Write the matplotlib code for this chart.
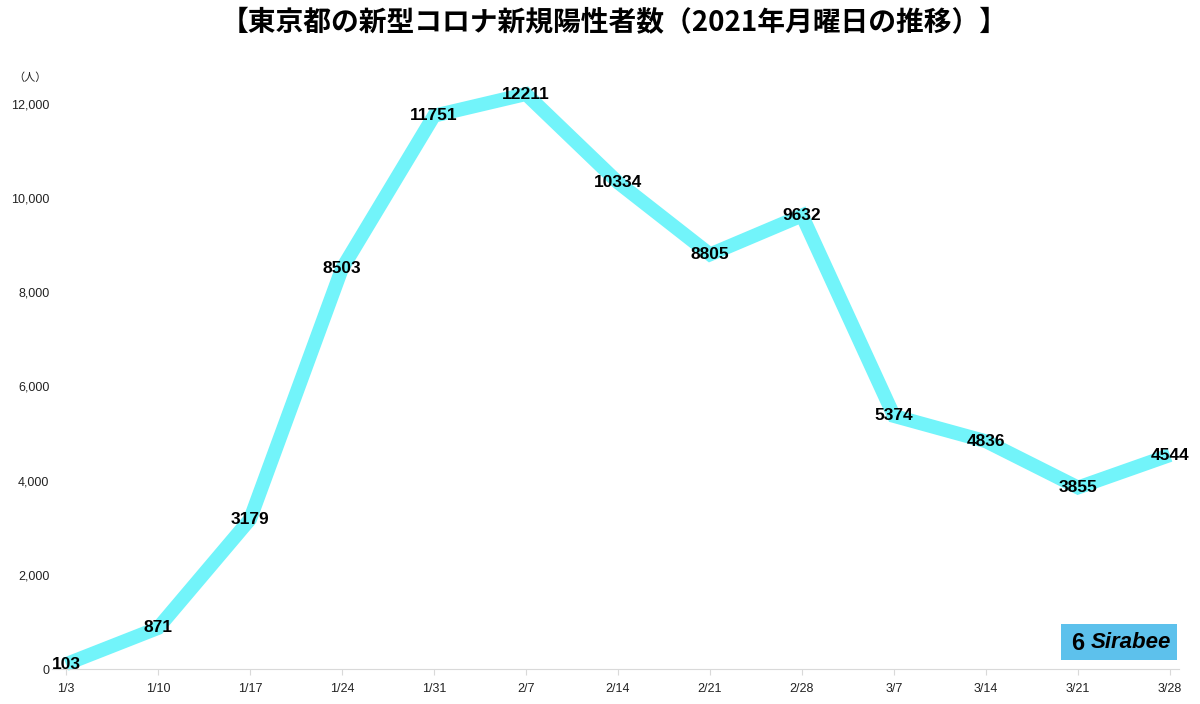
import matplotlib
matplotlib.use("Agg")
import matplotlib.pyplot as plt
from matplotlib.patches import Rectangle

dates = ["1/3", "1/10", "1/17", "1/24", "1/31", "2/7", "2/14", "2/21", "2/28", "3/7", "3/14", "3/21", "3/28"]
cases = [103, 871, 3179, 8503, 11751, 12211, 10334, 8805, 9632, 5374, 4836, 3855, 4544]
yticks = [0, 2000, 4000, 6000, 8000, 10000, 12000]
ytick_labels = ["0", "2,000", "4,000", "6,000", "8,000", "10,000", "12,000"]
title = "【東京都の新型コロナ新規陽性者数（2021年月曜日の推移）】"

plt.rcParams['font.family'] = ['Liberation Sans', 'Noto Sans CJK JP', 'DejaVu Sans']

fig = plt.figure(figsize=(12, 7.04), dpi=100)
W, H = 1200, 704
ymax = 12600
y0px, y12px = 669, 104
ppu = (y0px - y12px) / 12000
top_px = y0px - ymax * ppu
ax = fig.add_axes([66 / W, 1 - y0px / H, (1170 - 66) / W, (y0px - top_px) / H])

x = list(range(len(dates)))
ax.plot(x, cases, color="#72F4FA", lw=10, solid_capstyle="butt", solid_joinstyle="miter", clip_on=False, zorder=2)
for xi, v in zip(x, cases):
    ax.text(xi, v, str(v), ha="center", va="center", fontsize=12.5, fontweight="bold",
            color="black", zorder=3, family=['Liberation Sans Narrow', 'Liberation Sans'])

ax.set_xlim(0, 12)
ax.set_ylim(0, ymax)
ax.set_xticks(x)
ax.set_xticklabels(dates, fontsize=9, color="#222222")
ax.set_yticks(yticks)
ax.set_yticklabels(ytick_labels, fontsize=9, color="#222222")
for s in ["top", "right", "left"]:
    ax.spines[s].set_visible(False)
ax.spines["bottom"].set_color("#D9D9D9")
ax.spines["bottom"].set_bounds(-0.15, 12.1)
ax.tick_params(axis="x", length=4, color="#D9D9D9", pad=6)
ax.tick_params(axis="y", length=0, pad=12)

fig.text(30 / W, 1 - 78 / H, "（人）", ha="center", va="center", fontsize=8,
         family=['Noto Sans CJK JP'], color="#222222")
fig.text(614 / W, 1 - 23 / H, title, ha="center", va="center", fontsize=20,
         fontweight="bold", family=['Noto Sans CJK JP'], color="black")

# Sirabee logo
fig.patches.append(Rectangle((1061 / W, 1 - 660 / H), 116 / W, 36 / H, transform=fig.transFigure,
                             facecolor="#5DC1EC", edgecolor="none", figure=fig))
fig.text(1078 / W, 1 - 643 / H, "6", ha="center", va="center", fontsize=17, fontweight="bold",
         color="black")
fig.text(1131 / W, 1 - 643 / H, "Sirabee", ha="center", va="center", fontsize=16,
         fontweight="bold", style="italic", color="black")

fig.savefig("out.png", dpi=100, facecolor="white")
